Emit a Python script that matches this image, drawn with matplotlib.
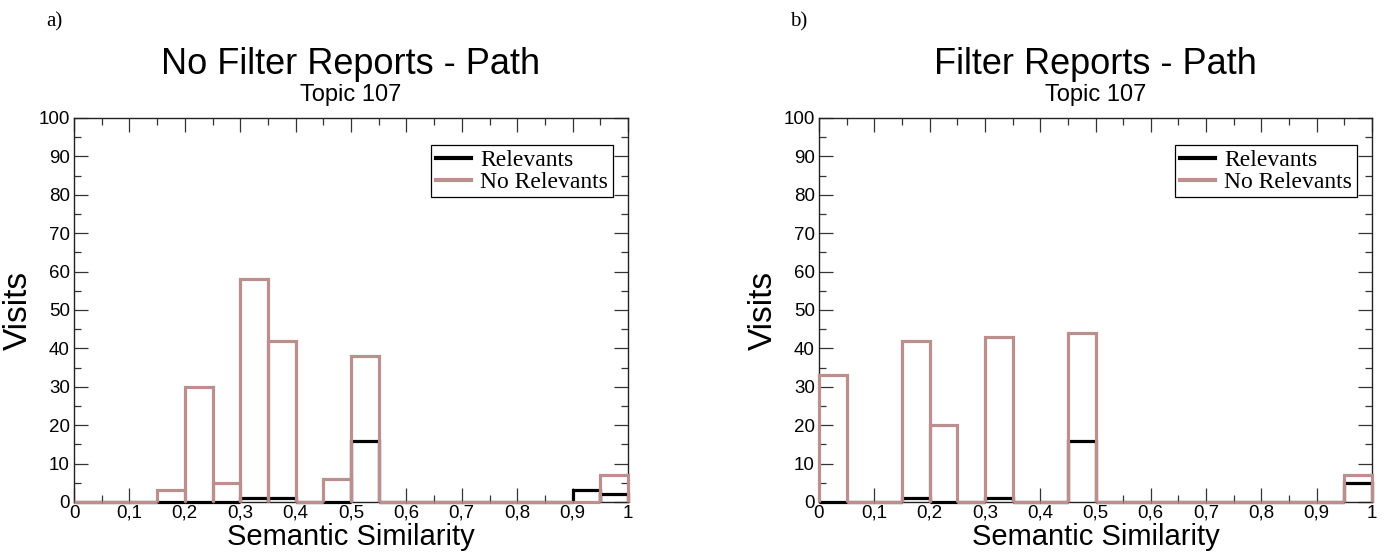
import numpy as np
import matplotlib
matplotlib.use("Agg")
import matplotlib.pyplot as plt
from matplotlib.lines import Line2D

# ---- data ----
bin_edges = [round(i * 0.05, 2) for i in range(21)]
left_relevants = [0, 0, 0, 0, 0, 0, 1, 1, 0, 0, 16, 0, 0, 0, 0, 0, 0, 0, 3, 2]
left_no_relevants = [0, 0, 0, 3, 30, 5, 58, 42, 0, 6, 38, 0, 0, 0, 0, 0, 0, 0, 0, 7]
right_relevants = [0, 0, 0, 1, 0, 0, 1, 0, 0, 16, 0, 0, 0, 0, 0, 0, 0, 0, 0, 5]
right_no_relevants = [33, 0, 0, 42, 20, 0, 43, 0, 0, 44, 0, 0, 0, 0, 0, 0, 0, 0, 0, 7]
x_ticks = [0, 0.1, 0.2, 0.3, 0.4, 0.5, 0.6, 0.7, 0.8, 0.9, 1.0]
x_tick_labels = ["0", "0,1", "0,2", "0,3", "0,4", "0,5", "0,6", "0,7", "0,8", "0,9", "1"]
y_ticks = list(range(0, 101, 10))
titles = ["No Filter Reports - Path", "Filter Reports - Path"]
subtitle = "Topic 107"
panel_letters = ["a)", "b)"]
series_names = ["Relevants", "No Relevants"]

PINK = "#BC8F8F"
W, H = 1385, 555
fig = plt.figure(figsize=(W / 100, H / 100), dpi=100)

sans = ["Liberation Sans", "DejaVu Sans"]
serif = ["Liberation Serif", "DejaVu Serif"]


def px_axes(x0, x1, ytop, ybot):
    return fig.add_axes([x0 / W, (H - ybot) / H, (x1 - x0) / W, (ybot - ytop) / H])


def open_bars(ax, edges, values, color, lw, z):
    # each bin drawn as an open-bottom bar (left side, top, right side)
    for i, h in enumerate(values):
        a, b = edges[i], edges[i + 1]
        ax.plot([a, a, b, b], [0, h, h, 0], color=color, lw=lw,
                solid_joinstyle="miter", solid_capstyle="butt",
                clip_on=False, zorder=z)


panels = [
    (74, 628, left_relevants, left_no_relevants),
    (819, 1372, right_relevants, right_no_relevants),
]

for k, (x0, x1, rel, norel) in enumerate(panels):
    ax = px_axes(x0, x1, 118, 502)
    open_bars(ax, bin_edges, rel, "black", 2.3, 3)
    open_bars(ax, bin_edges, norel, PINK, 2.3, 4)
    ax.set_xlim(0, 1)
    ax.set_ylim(0, 100)
    ax.set_xticks(x_ticks)
    ax.set_xticklabels(x_tick_labels, family=sans, fontsize=13.5)
    ax.set_xticks(np.arange(0.05, 1.0, 0.1), minor=True)
    ax.set_yticks(y_ticks)
    ax.set_yticklabels([str(v) for v in y_ticks], family=sans, fontsize=13.5)
    ax.set_yticks(np.arange(5, 100, 10), minor=True)
    ax.tick_params(which="both", direction="in", top=True, right=True,
                   width=0.9, color="#333333")
    ax.tick_params(axis="x", which="both", pad=2)
    ax.tick_params(axis="y", which="both", pad=3)
    ax.tick_params(which="major", length=10)
    ax.tick_params(which="minor", length=5)
    for s in ax.spines.values():
        s.set_linewidth(1.0)
        s.set_color("#222222")
        s.set_zorder(2)
    ax.set_xlabel("Semantic Similarity", family=sans, fontsize=21, labelpad=1)
    ax.set_ylabel("Visits", family=sans, fontsize=24, labelpad=3)

    handles = [Line2D([0], [0], color="black", lw=3),
               Line2D([0], [0], color=PINK, lw=3)]
    leg = ax.legend(handles, series_names, loc="upper right",
                    bbox_to_anchor=(1 - 15 / (x1 - x0), 1 - 27 / 384),
                    prop={"family": serif, "size": 17}, frameon=True,
                    fancybox=False, framealpha=1, edgecolor="black",
                    borderpad=0.2, labelspacing=0.0, handlelength=1.5,
                    handletextpad=0.4, borderaxespad=0)
    leg.get_frame().set_linewidth(0.9)
    leg.set_zorder(6)

    cx = (x0 + x1) / 2 / W
    fig.text(cx, 1 - 64 / H, titles[k], ha="center", va="center",
             family=sans, fontsize=26)
    fig.text(cx, 1 - 95 / H, subtitle, ha="center", va="center",
             family=sans, fontsize=17)
    fig.text((x0 - 20) / W, 1 - 22 / H, panel_letters[k], ha="center",
             va="center", family=serif, fontsize=15)

fig.savefig("out.png", dpi=100)
